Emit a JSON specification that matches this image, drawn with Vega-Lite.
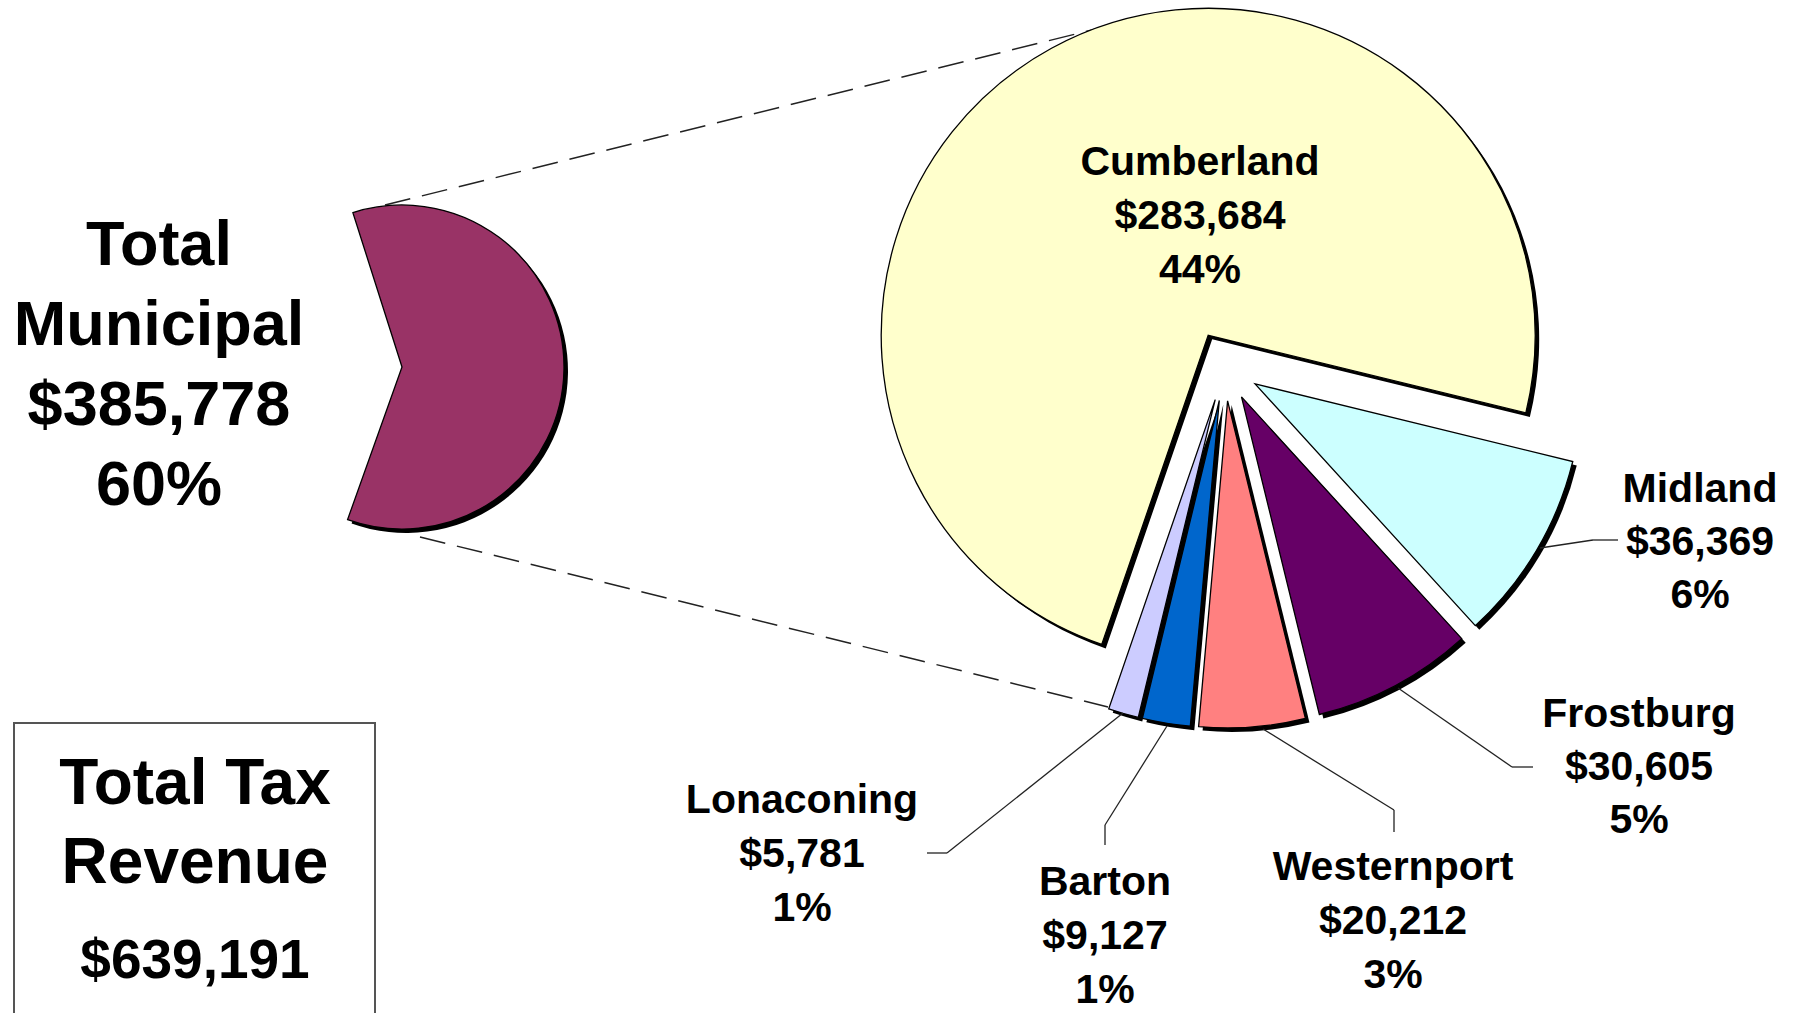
{
  "$schema": "https://vega.github.io/schema/vega-lite/v6.json",
  "width": 1796,
  "height": 1013,
  "autosize": "none",
  "padding": 0,
  "background": "white",
  "config": {"view": {"stroke": null}, "text": {"font": "Liberation Sans", "fill": "#000"}},
  "datasets": {
    "cities": [
      {"city": "Cumberland", "value": 283684, "pct": 44},
      {"city": "Midland", "value": 36369, "pct": 6},
      {"city": "Frostburg", "value": 30605, "pct": 5},
      {"city": "Westernport", "value": 20212, "pct": 3},
      {"city": "Barton", "value": 9127, "pct": 1},
      {"city": "Lonaconing", "value": 5781, "pct": 1}
    ],
    "revenue": [
      {"part": "Total Municipal", "value": 385778, "pct": 60},
      {"part": "Non-municipal", "value": 253413, "pct": 40}
    ]
  },
  "resolve": {"scale": {"theta": "independent"}},
  "layer": [
    {
      "data": {"values": [{}]},
      "layer": [
        {"mark": {"type": "rule", "stroke": "#222", "strokeWidth": 1.5, "strokeDash": [26, 12]},
         "encoding": {"x": {"value": 385}, "y": {"value": 205}, "x2": {"value": 1100}, "y2": {"value": 28}}},
        {"mark": {"type": "rule", "stroke": "#222", "strokeWidth": 1.5, "strokeDash": [26, 12]},
         "encoding": {"x": {"value": 420}, "y": {"value": 537}, "x2": {"value": 1108}, "y2": {"value": 707}}}
      ]
    },
    {
      "data": {"name": "revenue"},
      "transform": [
        {"stack": "value", "groupby": [], "sort": [{"field": "value", "order": "descending"}], "as": ["r0", "r1"]},
        {"filter": "datum.part === 'Total Municipal'"}
      ],
      "layer": [
        {
          "encoding": {
            "theta": {"field": "r0", "type": "quantitative", "stack": null, "scale": {"domain": [0, 639191], "range": [-0.308, 5.9752]}},
            "theta2": {"field": "r1"}
          },
          "layer": [
            {"mark": {"type": "arc", "x": 406, "y": 371, "radius": 162, "fill": "#000"}},
            {"mark": {"type": "arc", "x": 402, "y": 367, "radius": 162, "fill": "#993366", "stroke": "#000", "strokeWidth": 1.3}}
          ]
        },
        {
          "transform": [{"calculate": "[split(datum.part, ' ')[0], split(datum.part, ' ')[1], '$' + format(datum.value, ','), datum.pct + '%']", "as": "label"}],
          "mark": {"type": "text", "x": 159, "y": 265, "align": "center", "baseline": "alphabetic", "fontSize": 63, "fontWeight": "bold", "lineHeight": 80},
          "encoding": {"text": {"field": "label"}}
        }
      ]
    },
    {
      "data": {"name": "cities"},
      "transform": [
        {"stack": "value", "groupby": [], "sort": [{"field": "value", "order": "descending"}], "as": ["v0", "v1"]},
        {"calculate": "[datum.city, '$' + format(datum.value, ','), datum.pct + '%']", "as": "label"}
      ],
      "layer": [
        {
          "encoding": {
            "theta": {"field": "v0", "type": "quantitative", "stack": null, "scale": {"domain": [0, 385778], "range": [3.4732, 9.7564]}},
            "theta2": {"field": "v1"}
          },
          "layer": [
            {"transform": [{"filter": "datum.city === 'Cumberland'"}], "mark": {"type": "arc", "x": 1212.2, "y": 339.3, "radius": 327, "fill": "#000"}},
            {"transform": [{"filter": "datum.city === 'Midland'"}], "mark": {"type": "arc", "x": 1259.1, "y": 387.9, "radius": 327, "fill": "#000"}},
            {"transform": [{"filter": "datum.city === 'Frostburg'"}], "mark": {"type": "arc", "x": 1245.5, "y": 400.9, "radius": 327, "fill": "#000"}},
            {"transform": [{"filter": "datum.city === 'Westernport'"}], "mark": {"type": "arc", "x": 1231.6, "y": 404.9, "radius": 327, "fill": "#000"}},
            {"transform": [{"filter": "datum.city === 'Barton'"}], "mark": {"type": "arc", "x": 1223.3, "y": 404.5, "radius": 327, "fill": "#000"}},
            {"transform": [{"filter": "datum.city === 'Lonaconing'"}], "mark": {"type": "arc", "x": 1219.2, "y": 403.6, "radius": 327, "fill": "#000"}},
            {
              "encoding": {
                "color": {"field": "city", "type": "nominal", "legend": null,
                  "scale": {"domain": ["Cumberland", "Midland", "Frostburg", "Westernport", "Barton", "Lonaconing"],
                            "range": ["#FFFFCC", "#CCFFFF", "#660066", "#FF8080", "#0066CC", "#CCCCFF"]}}
              },
              "layer": [
                {"transform": [{"filter": "datum.city === 'Cumberland'"}], "mark": {"type": "arc", "x": 1208.2, "y": 335.3, "radius": 327, "stroke": "#000", "strokeWidth": 1.3, "opacity": 1}},
                {"transform": [{"filter": "datum.city === 'Midland'"}], "mark": {"type": "arc", "x": 1255.1, "y": 383.9, "radius": 327, "stroke": "#000", "strokeWidth": 1.3, "opacity": 1}},
                {"transform": [{"filter": "datum.city === 'Frostburg'"}], "mark": {"type": "arc", "x": 1241.5, "y": 396.9, "radius": 327, "stroke": "#000", "strokeWidth": 1.3, "opacity": 1}},
                {"transform": [{"filter": "datum.city === 'Westernport'"}], "mark": {"type": "arc", "x": 1227.6, "y": 400.9, "radius": 327, "stroke": "#000", "strokeWidth": 1.3, "opacity": 1}},
                {"transform": [{"filter": "datum.city === 'Barton'"}], "mark": {"type": "arc", "x": 1219.3, "y": 400.5, "radius": 327, "stroke": "#000", "strokeWidth": 1.3, "opacity": 1}},
                {"transform": [{"filter": "datum.city === 'Lonaconing'"}], "mark": {"type": "arc", "x": 1215.2, "y": 399.6, "radius": 327, "stroke": "#000", "strokeWidth": 1.3, "opacity": 1}}
              ]
            }
          ]
        },
        {"transform": [{"filter": "datum.city === 'Cumberland'"}], "mark": {"type": "text", "x": 1200, "y": 175, "align": "center", "baseline": "alphabetic", "fontSize": 41, "fontWeight": "bold", "lineHeight": 54}, "encoding": {"text": {"field": "label"}}},
        {"transform": [{"filter": "datum.city === 'Midland'"}], "mark": {"type": "text", "x": 1700, "y": 502, "align": "center", "baseline": "alphabetic", "fontSize": 41, "fontWeight": "bold", "lineHeight": 53}, "encoding": {"text": {"field": "label"}}},
        {"transform": [{"filter": "datum.city === 'Frostburg'"}], "mark": {"type": "text", "x": 1639, "y": 727, "align": "center", "baseline": "alphabetic", "fontSize": 41, "fontWeight": "bold", "lineHeight": 53}, "encoding": {"text": {"field": "label"}}},
        {"transform": [{"filter": "datum.city === 'Westernport'"}], "mark": {"type": "text", "x": 1393, "y": 880, "align": "center", "baseline": "alphabetic", "fontSize": 41, "fontWeight": "bold", "lineHeight": 54}, "encoding": {"text": {"field": "label"}}},
        {"transform": [{"filter": "datum.city === 'Barton'"}], "mark": {"type": "text", "x": 1105, "y": 895, "align": "center", "baseline": "alphabetic", "fontSize": 41, "fontWeight": "bold", "lineHeight": 54}, "encoding": {"text": {"field": "label"}}},
        {"transform": [{"filter": "datum.city === 'Lonaconing'"}], "mark": {"type": "text", "x": 802, "y": 813, "align": "center", "baseline": "alphabetic", "fontSize": 41, "fontWeight": "bold", "lineHeight": 54}, "encoding": {"text": {"field": "label"}}}
      ]
    },
    {
      "data": {"values": [{}]},
      "layer": [
        {"mark": {"type": "rule", "stroke": "#222", "strokeWidth": 1.3}, "encoding": {"x": {"value": 1540}, "y": {"value": 548}, "x2": {"value": 1593}, "y2": {"value": 540}}},
        {"mark": {"type": "rule", "stroke": "#222", "strokeWidth": 1.3}, "encoding": {"x": {"value": 1593}, "y": {"value": 540}, "x2": {"value": 1618}, "y2": {"value": 540}}},
        {"mark": {"type": "rule", "stroke": "#222", "strokeWidth": 1.3}, "encoding": {"x": {"value": 1398}, "y": {"value": 688}, "x2": {"value": 1512}, "y2": {"value": 767}}},
        {"mark": {"type": "rule", "stroke": "#222", "strokeWidth": 1.3}, "encoding": {"x": {"value": 1512}, "y": {"value": 767}, "x2": {"value": 1533}, "y2": {"value": 767}}},
        {"mark": {"type": "rule", "stroke": "#222", "strokeWidth": 1.3}, "encoding": {"x": {"value": 1263}, "y": {"value": 729}, "x2": {"value": 1394}, "y2": {"value": 810}}},
        {"mark": {"type": "rule", "stroke": "#222", "strokeWidth": 1.3}, "encoding": {"x": {"value": 1394}, "y": {"value": 810}, "x2": {"value": 1394}, "y2": {"value": 832}}},
        {"mark": {"type": "rule", "stroke": "#222", "strokeWidth": 1.3}, "encoding": {"x": {"value": 1167}, "y": {"value": 726}, "x2": {"value": 1105}, "y2": {"value": 825}}},
        {"mark": {"type": "rule", "stroke": "#222", "strokeWidth": 1.3}, "encoding": {"x": {"value": 1105}, "y": {"value": 825}, "x2": {"value": 1105}, "y2": {"value": 845}}},
        {"mark": {"type": "rule", "stroke": "#222", "strokeWidth": 1.3}, "encoding": {"x": {"value": 1123}, "y": {"value": 713}, "x2": {"value": 947}, "y2": {"value": 853}}},
        {"mark": {"type": "rule", "stroke": "#222", "strokeWidth": 1.3}, "encoding": {"x": {"value": 947}, "y": {"value": 853}, "x2": {"value": 927}, "y2": {"value": 853}}},
        {"mark": {"type": "rect", "fill": "white", "stroke": "#555", "strokeWidth": 2}, "encoding": {"x": {"value": 14}, "x2": {"value": 375}, "y": {"value": 723}, "y2": {"value": 1040}}},
        {"mark": {"type": "text", "x": 195, "y": 804, "align": "center", "baseline": "alphabetic", "fontSize": 64, "fontWeight": "bold", "lineHeight": 79, "text": ["Total Tax", "Revenue"]}}
      ]
    },
    {
      "data": {"name": "revenue"},
      "transform": [{"aggregate": [{"op": "sum", "field": "value", "as": "total"}]}],
      "mark": {"type": "text", "x": 195, "y": 978, "align": "center", "baseline": "alphabetic", "fontSize": 55, "fontWeight": "bold"},
      "encoding": {"text": {"field": "total", "type": "quantitative", "format": "$,"}}
    }
  ]
}
